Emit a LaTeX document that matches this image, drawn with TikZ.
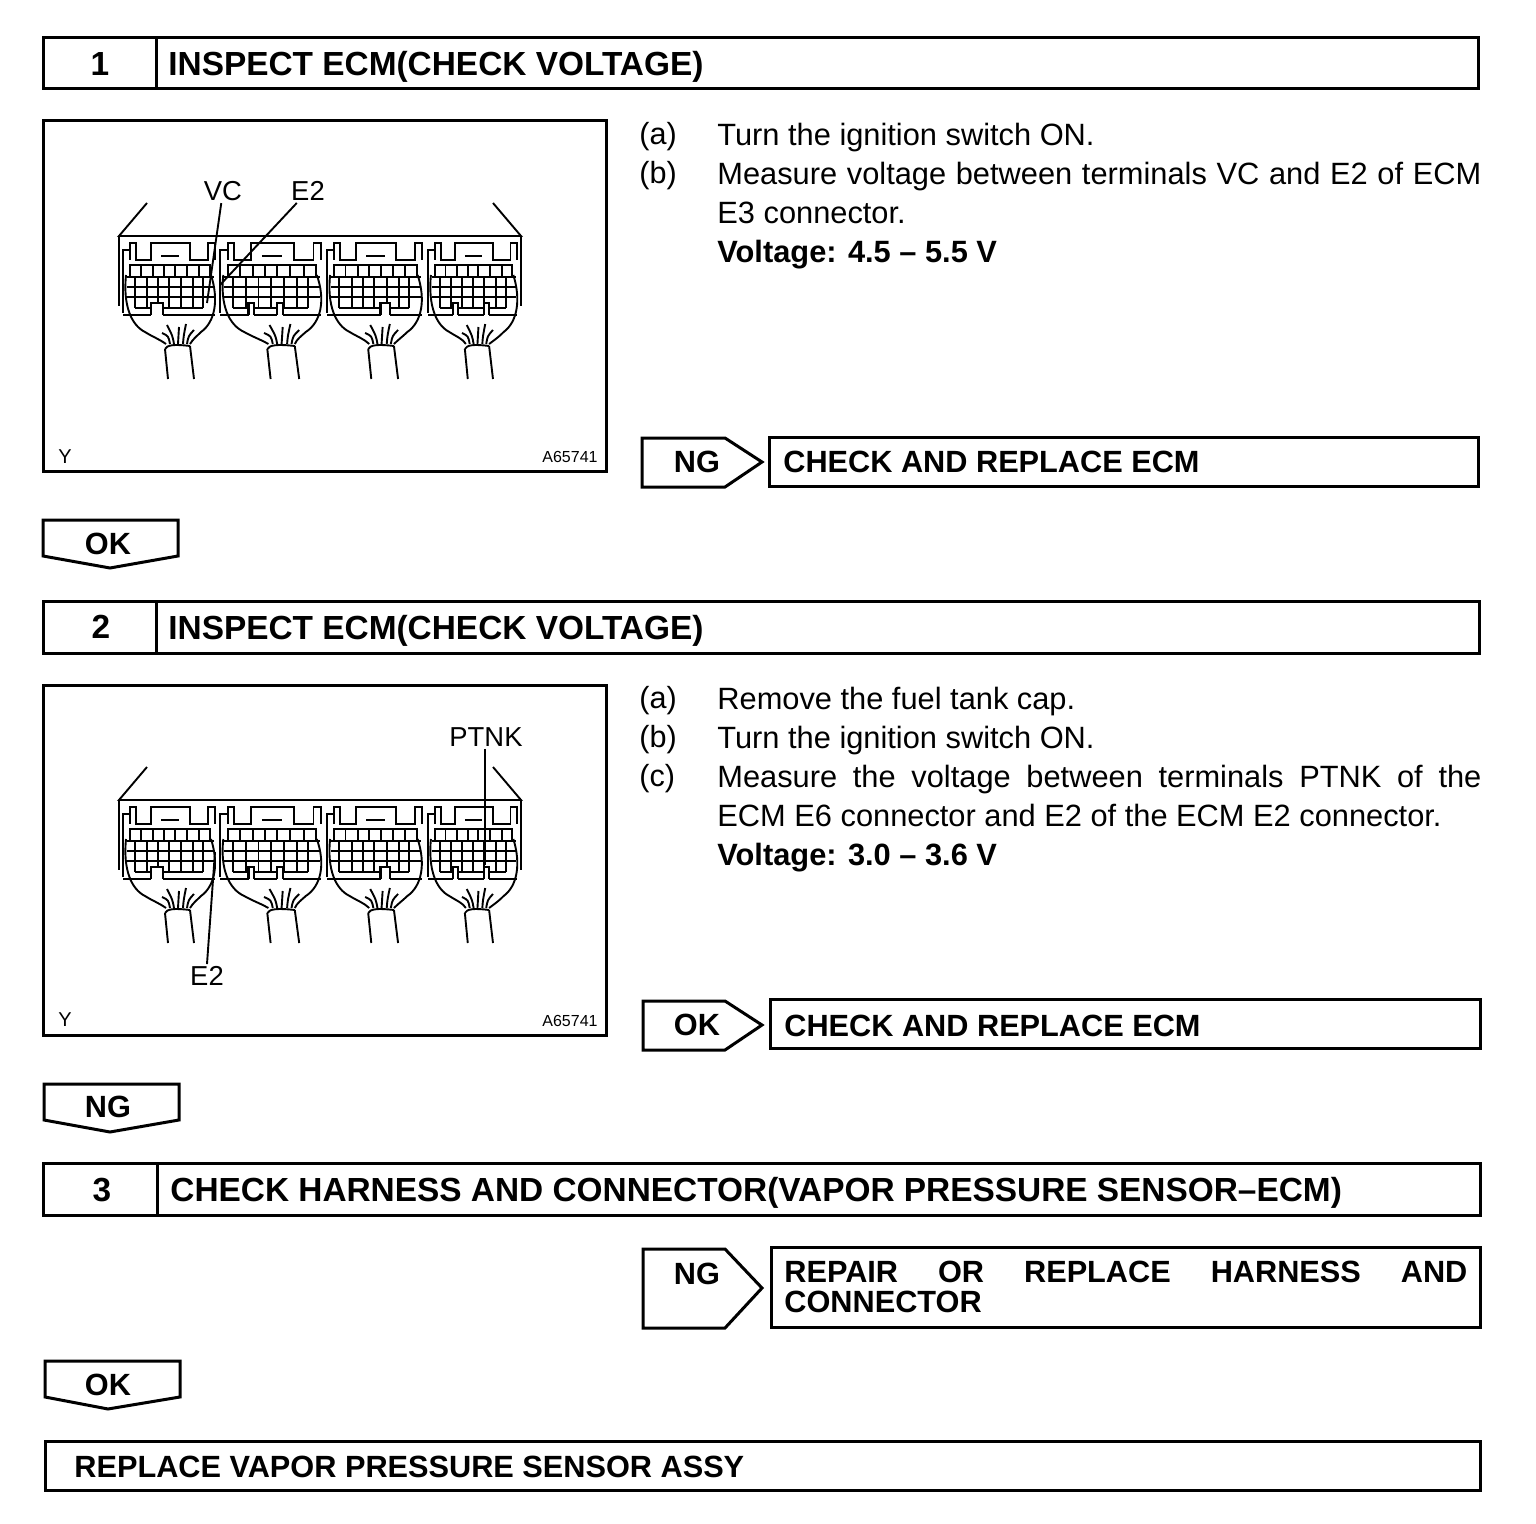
\documentclass[tikz,border=0pt]{standalone}
\usepackage{fontspec}
\setmainfont{Liberation Sans}
\usetikzlibrary{positioning}

\tikzset{
  frameline/.style={line width=1.5pt},
  thinline/.style={line width=0.95pt},
  titletext/.style={font=\fontsize{16.7}{20}\bfseries\selectfont,inner sep=0pt},
  tagtext/.style={font=\fontsize{15.35}{15}\bfseries\selectfont,inner sep=0pt},
  bodytext/.style={font=\fontsize{15.4}{19.5}\selectfont,inner sep=0pt,anchor=north west,text width=382pt,align=justify},
  itemtext/.style={font=\fontsize{15.3}{19.5}\selectfont,inner sep=0pt,anchor=west},
  calloutlabel/.style={font=\fontsize{13.7}{16}\selectfont,inner sep=1pt},
  cornertext/.style={font=\fontsize{10}{12}\selectfont,inner sep=0pt},
  codetext/.style={font=\fontsize{8}{10}\selectfont,inner sep=0pt},
  pics/ecmfront/.style={code={
    % carcasa
    \draw[thinline] (147,203)--(119,236)--(521,236)--(493,203);
    \draw[thinline] (119,236)--(119,306) (521,236)--(521,306);
    \foreach \mx/\cx/\sc/\notchlist in {123/56/1/{28/40},220/57/1.1/{26/31,52/57},327/54/1.03/{52/61},428/52/0.97/{26/31,58/63}}{
      \begin{scope}[shift={(\mx,0)},xscale=\sc]
        % pestillos
        \draw[thinline] (0,313)--(0,250)--(7,250) (7,260)--(7,243)--(13,243)--(13,260)--(28,260)--(28,243)--(67,243)--(67,260)--(85,260)--(85,243)--(92,243)--(92,260);
        \draw[line width=1.3pt] (38,256)--(56,256);
        % contactos
        \draw[thinline] (7,277)--(7,265)--(87,265)--(87,277);
        \foreach \gx in {18,30,41,52,64,76}{\draw[thinline] (\gx,265)--(\gx,277);}
        \draw[thinline] (4,277)--(91,277) (4,287)--(91,287) (4,297)--(91,297);
        \foreach \gx in {12,24,35,46,58,70,80}{\draw[thinline] (\gx,277)--(\gx,308);}
        \draw[thinline] (12,308)--(80,308);
        \draw[line width=1.2pt] (0,315)--(92,315);
        \foreach \na/\nb in \notchlist{
          \fill[white] (\na,304) rectangle (\nb,317);
          \draw[line width=1.2pt] (\na,315)--(\na,303)--(\nb,303)--(\nb,315);
        }
        % funda y cables
        \draw[thinline] (3,275).. controls (0,305) and (8,325) .. (22,332).. controls (30,337) and (36,339) .. (\cx-13,344);
        \draw[thinline] (88,275).. controls (96,300) and (92,322) .. (78,332).. controls (74,336) and (70,339) .. (\cx+11,344);
        \draw[thinline] (\cx-14,349)--(\cx-11,379) (\cx+11,346)--(\cx+15,379);
        \draw[thinline] (\cx-14,349).. controls (\cx-12,345) and (\cx-5,344) .. (\cx+11,346);
        \foreach \wa/\wb/\wy in {-9/-17/333,-5/-12/325,-1/0/327,4/7/324,8/15/330}{
          \draw[thinline] (\cx+\wa,344).. controls (\cx+\wa*0.8+\wb*0.2,336) .. (\cx+\wb,\wy);
        }
      \end{scope}
    }
  }},
}

\begin{document}
\begin{tikzpicture}[x=0.5pt,y=-0.5pt]
  \useasboundingbox (0,0) rectangle (1536,1524);

  % paso 1
  \draw[frameline] (43,38) rectangle (1478,89) (156,38)--(156,89);
  \node[titletext] (num1) at (100,64) {1};
  \node[titletext,anchor=base west] (title1) at (168,76) {INSPECT ECM(CHECK VOLTAGE)};
  \draw[frameline] (43,121) rectangle (606,471);
  \pic at (0,0) {ecmfront};
  \node[calloutlabel] (lblvc) at (223,191) {VC};
  \node[calloutlabel] (lble2a) at (308,191) {E2};
  \coordinate (pinvc) at (207,303);
  \coordinate (pine2a) at (220,285);
  \draw[thinline] (lblvc)--(pinvc);
  \draw[thinline] (lble2a)--(pine2a);
  \node[cornertext] (ya) at (65,457) {Y};
  \node[codetext] (codea) at (570,457) {A65741};
  \node[itemtext] (ia1) at (639,137) {(a)};
  \node[bodytext] (ta1) at (717,123) {Turn the ignition switch ON.};
  \node[itemtext] (ia2) at (639,176) {(b)};
  \node[bodytext] (ta2) at (717,162) {Measure voltage between terminals VC and E2 of ECM\linebreak E3 connector.\\ \textbf{Voltage: 4.5 -- 5.5 V}};

  % resultado NG
  \draw[frameline] (642,438)--(725,438)--(762,462)--(725,487)--(642,487)--cycle;
  \node[tagtext] (tagng1) at (697,462) {NG};
  \draw[frameline] (769,437) rectangle (1478,486);
  \node[tagtext,anchor=base west] (res1) at (783,473) {CHECK AND REPLACE ECM};
  % OK abajo
  \draw[frameline] (43,520)--(178,520)--(178,556)--(110,568)--(43,556)--cycle;
  \node[tagtext] (tagok1) at (108,544) {OK};

  % paso 2
  \draw[frameline] (43,601) rectangle (1479,653) (156,601)--(156,653);
  \node[titletext] (num2) at (101,627) {2};
  \node[titletext,anchor=base west] (title2) at (168,639) {INSPECT ECM(CHECK VOLTAGE)};
  \draw[frameline] (43,685) rectangle (606,1035);
  \pic at (0,564) {ecmfront};
  \node[calloutlabel] (lblptnk) at (486,737) {PTNK};
  \node[calloutlabel] (lble2b) at (207,976) {E2};
  \coordinate (pinptnk) at (485,865);
  \coordinate (pine2b) at (215,852);
  \draw[thinline] (lblptnk.south -| pinptnk)--(pinptnk);
  \draw[thinline] (lble2b.north)--(pine2b);
  \node[cornertext] (yb) at (65,1020) {Y};
  \node[codetext] (codeb) at (570,1021) {A65741};
  \node[itemtext] (ib1) at (639,701) {(a)};
  \node[bodytext] (tb1) at (717,687) {Remove the fuel tank cap.};
  \node[itemtext] (ib2) at (639,740) {(b)};
  \node[bodytext] (tb2) at (717,726) {Turn the ignition switch ON.};
  \node[itemtext] (ib3) at (639,779) {(c)};
  \node[bodytext] (tb3) at (717,765) {Measure the voltage between terminals PTNK of the\linebreak ECM E6 connector and E2 of the ECM E2 connector.\\ \textbf{Voltage: 3.0 -- 3.6 V}};

  % resultado OK
  \draw[frameline] (643,1001)--(725,1001)--(762,1025)--(725,1050)--(643,1050)--cycle;
  \node[tagtext] (tagok2) at (697,1025) {OK};
  \draw[frameline] (770,999) rectangle (1480,1048);
  \node[tagtext,anchor=base west] (res2) at (784,1036) {CHECK AND REPLACE ECM};
  % NG abajo
  \draw[frameline] (44,1084)--(179,1084)--(179,1120)--(110,1132)--(44,1120)--cycle;
  \node[tagtext] (tagng2) at (108,1107) {NG};

  % paso 3
  \draw[frameline] (43,1163) rectangle (1480,1215) (157,1163)--(157,1215);
  \node[titletext] (num3) at (102,1190) {3};
  \node[titletext,anchor=base west] (title3) at (170,1201) {CHECK HARNESS AND CONNECTOR(VAPOR PRESSURE SENSOR--ECM)};

  \draw[frameline] (643,1249)--(725,1249)--(762,1288)--(725,1328)--(643,1328)--cycle;
  \node[tagtext] (tagng3) at (697,1274) {NG};
  \draw[frameline] (771,1247) rectangle (1480,1327);
  \node[tagtext,anchor=north west,text width=341.5pt,align=justify] (res3) at (784,1261) {REPAIR OR REPLACE HARNESS AND\linebreak CONNECTOR};

  \draw[frameline] (45,1361)--(180,1361)--(180,1397)--(108,1409)--(45,1397)--cycle;
  \node[tagtext] (tagok3) at (108,1385) {OK};

  % final
  \draw[frameline] (45,1441) rectangle (1480,1490);
  \node[tagtext,anchor=base west] (final) at (74,1477) {REPLACE VAPOR PRESSURE SENSOR ASSY};
\end{tikzpicture}
\end{document}
